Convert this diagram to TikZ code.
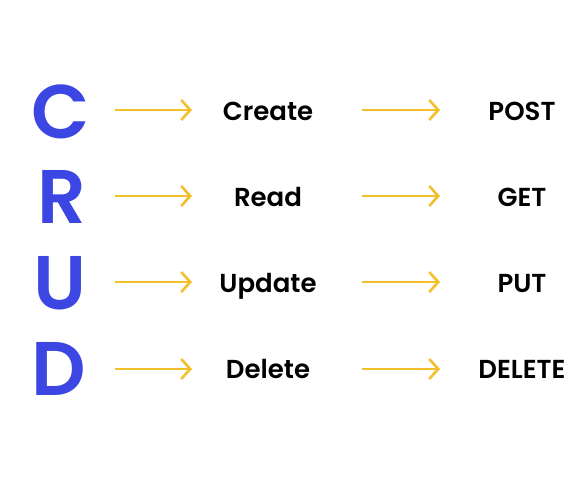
\documentclass[tikz,border=0pt]{standalone}
\usepackage{fontspec}
\setmainfont{Poppins}
\newfontfamily\letterfont{Poppins SemiBold}
\usetikzlibrary{arrows.meta}
\definecolor{crudblue}{HTML}{3C46E2}
\definecolor{crudyellow}{HTML}{F3BF2C}
\tikzset{
  letter/.style={text=crudblue, font=\fontsize{76}{76}\letterfont, inner sep=0pt, anchor=base},
  word/.style={text=black, font=\fontsize{26}{26}\letterfont, inner sep=0pt, anchor=base},
  pointer/.style={crudyellow, line width=2.8pt, -{Straight Barb[length=9pt, width=20pt, line width=2.6pt]}}
}
\begin{document}
\begin{tikzpicture}[x=1pt, y=-1pt]
			%%%%% START %%%%%
			\useasboundingbox (0, 0) rectangle (579, 480);
			
			\node[letter] (c) at (61, 138) {C};
			\node[letter] (r) at (62, 223) {R};
			\node[letter] (u) at (60, 309) {U};
			\node[letter] (d) at (59, 395) {D};
			
			\node[word] (create) at (268, 120) {Create};
			\node[word] (read) at (268, 206) {Read};
			\node[word] (update) at (268, 292) {Update};
			\node[word] (delete) at (268, 378) {Delete};
			
			\node[word] (post) at (522, 120) {POST};
			\node[word] (get) at (522, 206) {GET};
			\node[word] (put) at (522, 292) {PUT};
			\node[word] (del) at (522, 378) {DELETE};
			
			\coordinate (c1) at (115, 110); \coordinate (c2) at (192, 110);
			\coordinate (c3) at (362, 110); \coordinate (c4) at (440, 110);
			\coordinate (r1) at (115, 196); \coordinate (r2) at (192, 196);
			\coordinate (r3) at (362, 196); \coordinate (r4) at (440, 196);
			\coordinate (u1) at (115, 282); \coordinate (u2) at (192, 282);
			\coordinate (u3) at (362, 282); \coordinate (u4) at (440, 282);
			\coordinate (d1) at (115, 369); \coordinate (d2) at (192, 369);
			\coordinate (d3) at (362, 369); \coordinate (d4) at (440, 369);
			
			\draw[pointer] (c1) -- (c2);
			\draw[pointer] (c3) -- (c4);
			\draw[pointer] (r1) -- (r2);
			\draw[pointer] (r3) -- (r4);
			\draw[pointer] (u1) -- (u2);
			\draw[pointer] (u3) -- (u4);
			\draw[pointer] (d1) -- (d2);
			\draw[pointer] (d3) -- (d4);
			
			%%%%% END %%%%%
		\end{tikzpicture}
\end{document}
